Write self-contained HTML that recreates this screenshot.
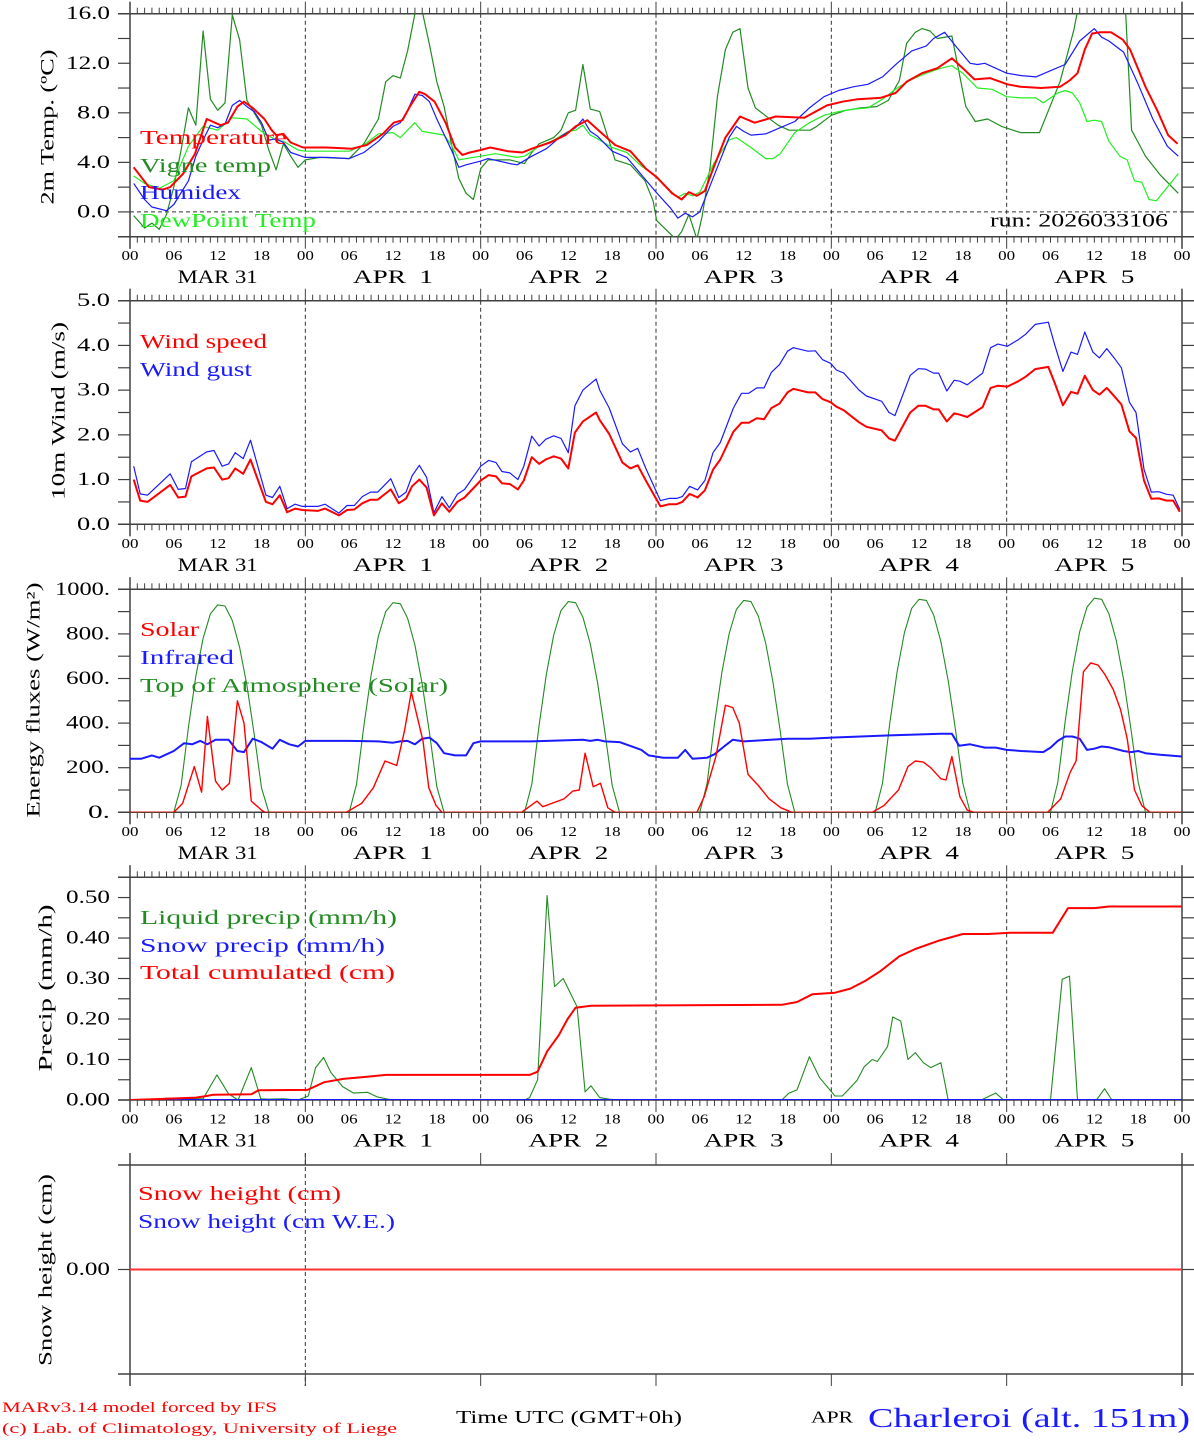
<!DOCTYPE html>
<html><head><meta charset="utf-8">
<style>
html,body{margin:0;padding:0;background:#fff;}
svg{display:block;font-family:"Liberation Serif",serif;}
svg text{white-space:pre;}
</style></head>
<body>
<svg id="chart" width="1194" height="1440" viewBox="0 0 1194 1440" xmlns="http://www.w3.org/2000/svg">
<defs>
<clipPath id="clip0"><rect x="130" y="13.7" width="1052" height="223"/></clipPath>
<clipPath id="clip1"><rect x="130" y="300.7" width="1052" height="223.6"/></clipPath>
<clipPath id="clip2"><rect x="130" y="589.3" width="1052" height="223"/></clipPath>
<clipPath id="clip3"><rect x="130" y="877.3" width="1052" height="222.7"/></clipPath>
</defs>
<g id="axes"></g>
<g id="marks"></g>
<g id="texts">
<text x="140" y="138" fill="#ff0000" font-size="20" dominant-baseline="central" textLength="147">Temperature</text>
<text x="140" y="166" fill="#228b22" font-size="20" dominant-baseline="central" textLength="131">Vigne temp</text>
<text x="140" y="193" fill="#1a1aff" font-size="20" dominant-baseline="central" textLength="101">Humidex</text>
<text x="140" y="221" fill="#22ee22" font-size="20" dominant-baseline="central" textLength="176">DewPoint Temp</text>
<text x="990" y="221" fill="#000" font-size="19" dominant-baseline="central" textLength="178">run: 2026033106</text>
<text x="140" y="342" fill="#ff0000" font-size="20" dominant-baseline="central" textLength="127">Wind speed</text>
<text x="140" y="370" fill="#1a1aff" font-size="20" dominant-baseline="central" textLength="112">Wind gust</text>
<text x="140" y="630" fill="#ff0000" font-size="20" dominant-baseline="central" textLength="59">Solar</text>
<text x="140" y="658" fill="#1a1aff" font-size="20" dominant-baseline="central" textLength="94">Infrared</text>
<text x="140" y="686" fill="#228b22" font-size="20" dominant-baseline="central" textLength="308">Top of Atmosphere (Solar)</text>
<text x="140" y="918" fill="#228b22" font-size="20" dominant-baseline="central" textLength="257">Liquid precip (mm/h)</text>
<text x="140" y="946" fill="#1a1aff" font-size="20" dominant-baseline="central" textLength="245">Snow precip (mm/h)</text>
<text x="140" y="973" fill="#ff0000" font-size="20" dominant-baseline="central" textLength="255">Total cumulated (cm)</text>
<text x="138" y="1194" fill="#ff0000" font-size="20" dominant-baseline="central" textLength="203">Snow height (cm)</text>
<text x="138" y="1222" fill="#1a1aff" font-size="20" dominant-baseline="central" textLength="257">Snow height (cm W.E.)</text>
<text transform="translate(48,127) rotate(-90)" text-anchor="middle" dominant-baseline="central" font-size="19" textLength="155">2m Temp. (ºC)</text>
<text transform="translate(59,411) rotate(-90)" text-anchor="middle" dominant-baseline="central" font-size="19" textLength="178">10m Wind (m/s)</text>
<text transform="translate(34,700) rotate(-90)" text-anchor="middle" dominant-baseline="central" font-size="19" textLength="235">Energy fluxes (W/m²)</text>
<text transform="translate(46,988) rotate(-90)" text-anchor="middle" dominant-baseline="central" font-size="19" textLength="167">Precip (mm/h)</text>
<text transform="translate(46,1270) rotate(-90)" text-anchor="middle" dominant-baseline="central" font-size="19" textLength="192">Snow height (cm)</text>
<text x="2" y="1408" fill="#ff0000" font-size="15" dominant-baseline="central" textLength="275">MARv3.14 model forced by IFS</text>
<text x="2" y="1429" fill="#ff0000" font-size="15" dominant-baseline="central" textLength="395">(c) Lab. of Climatology, University of Liege</text>
<text x="456" y="1417" fill="#000" font-size="18" dominant-baseline="central" textLength="226">Time UTC (GMT+0h)</text>
<text x="811" y="1417" fill="#000" font-size="17" dominant-baseline="central" textLength="42">APR</text>
<text x="868" y="1418" fill="#1a1aff" font-size="27" dominant-baseline="central" textLength="322">Charleroi (alt. 151m)</text>
</g>
</svg>
<script>
// ---------- DATA ----------
const dayLabels = ["MAR 31","APR  1","APR  2","APR  3","APR  4","APR  5"];
const hourLabels = ["00","06","12","18"];
const tempTicks = [0,4,8,12,16];
const windTicks = [0,1,2,3,4,5];
const energyTicks = [0,200,400,600,800,1000];
const precipTicks = [0,0.1,0.2,0.3,0.4,0.5];

const tempHours = [0.5,2.6,4.5,5.5,7.3,8.9,10.5,12.4,13.4,14.7,15.6,16.8,18.4,19.4,20,21,22,23.7,27,30.4,32.4,34.6,36.1,37.3,38.3,39.6,40.4,41.7,43.2,44.5,45.5,46.5,48,49.3,51.7,53.7,55,57.5,59.6,61,62.6,64.3,66.4,68.5,70.6,72.1,74.2,75.5,76.5,77.6,78.7,79.9,81.5,83.5,85.5,88.4,92.3,95.4,97.5,99.6,102.7,104.8,106.3,108.4,110.5,112.5,114,115.6,117.7,120.1,121.9,124.7,127.3,128.6,129.7,130.7,131.7,132.8,134.3,135.9,136.9,139,140.6,142.1,143.4];
const tempValues = [3.6,2.0,1.8,2.0,3.1,4.7,7.5,7.0,7.2,8.5,8.9,8.4,7.5,6.6,6.2,6.3,5.6,5.2,5.2,5.1,5.4,6.3,7.2,7.4,8.5,9.7,9.5,8.9,7.2,5.2,4.6,4.8,5.0,5.2,4.9,4.8,5.1,5.6,6.2,6.9,7.4,6.5,5.4,4.9,3.5,2.8,1.5,1.0,1.6,1.3,1.7,3.6,6.0,7.7,7.2,7.7,7.6,8.6,8.9,9.1,9.2,9.6,10.5,11.2,11.6,12.4,11.6,10.7,10.8,10.3,10.1,10.0,10.1,10.6,11.2,13.1,14.4,14.5,14.5,13.9,13.1,10.1,8.2,6.2,5.5];

const humidexHours = [0.5,2,3,5,6,8,9,10,11,12,13,14,15,16,17,18,19,20,21,22,24,27,30,32,34,36,37,38,39,40,41,42,44,45,46,48,49,52,53,55,57,59,61,62,63,64,66,68,70,72,74,75,76,77,78,80,82,83,84,85,87,89,91,93,95,97,99,101,103,105,107,109,110,111.5,113,115,116,117,120,122,124,126,128,130,132,133,134,136,138,140,142,143.5];
const humidexValues = [2.3,1.0,0.4,0.1,0.6,2.5,4.5,5.8,7.0,6.8,7.1,8.6,9.0,8.5,8.1,7.2,5.8,5.9,5.6,4.8,4.4,4.4,4.3,4.8,5.7,6.9,7.2,8.2,9.5,9.4,8.9,7.5,5.0,3.6,3.8,4.1,4.3,3.9,3.8,4.5,5.1,6.1,6.8,7.5,6.5,6.1,4.9,4.4,3.0,1.6,0.3,-0.5,-0.1,-0.4,0.0,3.0,6.0,6.9,6.5,6.2,6.3,6.8,7.3,8.4,9.3,9.8,10.1,10.3,10.9,12.0,13.0,13.4,14.0,14.5,13.4,12.0,11.9,12.0,11.2,11.0,10.9,11.4,11.9,13.8,14.8,14.1,13.8,12.9,10.3,7.5,5.3,4.5];

const dewHours = [0.5,2,4,6,8,10,12,14,16,18,20,21,23,24,30,32,34,36,37,39,40,42,43,44,45,47,48,50,53,54,56,58,60,61,62,63,64,66,68,70,72,74,75,76,77,78,80,82,83,85,87,88,89,91,93,95,97,99,101,103,105,107,109,111,112.5,114,116,118,120,122,124,125,127,128,129,130,131,132,133,134,135.5,136.5,137.5,138.5,139.5,140.5,142,143.5];
const dewValues = [2.9,2.3,1.9,2.5,5.3,6.9,6.6,7.6,7.5,6.5,5.8,5.7,5.0,4.9,4.9,5.4,6.3,6.4,6.0,7.2,6.5,6.3,6.2,5.4,4.2,4.4,4.5,4.7,4.4,4.5,5.3,5.8,6.5,6.6,7.0,6.2,5.9,5.2,4.8,3.7,2.9,1.7,1.2,1.5,1.3,1.6,4.0,5.8,6.0,5.2,4.3,4.3,4.7,6.4,7.2,7.8,8.1,8.3,8.4,9.1,10.0,10.7,11.2,11.6,11.8,11.2,10.0,9.9,9.3,9.2,9.2,8.8,9.6,9.8,9.6,8.8,7.3,7.4,7.3,5.7,4.5,4.2,2.5,2.4,1.0,0.9,2.0,3.1];

const vigneHours = [0.5,2,3,4,5,6,7,8,9,10,11,12,13,14,15,16,17,18,19,20,21,22,23,24,26,30,32,34,35,36,37,38,39,40,41,42,43,44,45,46,47,48,49,52,54,55,56,58,59,60,61,62,63,64.3,66.4,68.5,70.5,71.6,72.1,74,74.7,75.5,76.5,77.6,78.3,79.4,80.4,81.5,82.5,83.5,84.6,85.6,88.7,90.2,93.1,94,96,98,100,102.2,103.8,105.3,106.3,107.5,108.4,109.5,110.5,112.5,114.4,115.7,117.4,119.3,121.9,124.5,127.3,129.2,129.7,131,135,136.3,137.1,139,141,143.5];
const vigneValues = [-0.3,-1.3,-0.9,-1.4,-0.2,2.0,5.0,8.4,7.0,14.6,9.1,8.2,8.8,15.9,13.9,9.0,8.0,7.0,5.0,3.4,5.5,4.5,3.6,4.2,4.4,4.3,5.5,7.5,10.5,11.0,10.8,13.0,16.0,16.2,13.5,10.5,8.5,5.5,2.7,1.5,1.0,3.5,4.2,4.2,3.9,4.8,5.5,6.0,6.6,8.0,8.2,11.9,8.3,8.1,4.2,3.8,2.5,0.9,-0.7,-1.8,-2.2,-1.6,-0.2,-2.2,-0.4,3.6,9.3,13.1,14.5,14.8,10.0,8.4,7.0,6.6,6.6,6.9,7.8,8.2,8.4,8.5,9.0,10.6,13.6,14.5,14.8,14.6,14.0,14.2,8.5,7.3,7.5,6.9,6.4,6.4,10.5,14.7,16.2,18,18,16,6.6,4.5,3.0,1.5];

const windHours = [0.5,1.4,2.4,5.5,6.6,7.6,8.4,10.5,11.5,12.6,13.5,14.4,15.5,16.5,18.6,19.5,20.5,21.5,22.6,23.6,25.7,26.7,28.6,29.7,30.7,31.8,32.9,33.9,35.7,36.8,37.8,38.6,39.6,40.6,41.6,42.7,43.7,44.8,45.8,48,49.1,50.1,50.9,52,53.1,53.9,55,56,56.9,58,59,60,60.9,62,63.8,64.3,65.6,67.4,68.5,69.5,70.6,72.6,73.8,74.8,75.6,76.6,77.7,78.7,79.8,80.8,82.6,83.7,84.7,85.8,86.8,87.8,88.9,90,90.8,92.8,93.8,94.8,95.9,96.7,97.7,99.8,100.8,102.9,103.9,104.7,105.8,106.8,107.9,108.9,110,110.7,111.8,112.8,113.6,114.6,116.7,117.8,118.8,120.1,121.6,122.6,123.9,125.7,126.6,127.7,128.8,129.7,130.7,131.8,132.7,133.7,134.8,135.7,136.8,137.7,138.8,139.8,140.8,141.9,142.8,143.7];
const windSpeed = [1.0,0.53,0.5,0.88,0.6,0.62,1.07,1.25,1.27,1.0,1.03,1.25,1.13,1.45,0.5,0.45,0.65,0.27,0.35,0.32,0.3,0.35,0.2,0.32,0.33,0.47,0.55,0.55,0.78,0.47,0.58,0.85,1.0,0.82,0.2,0.47,0.28,0.5,0.6,0.98,1.1,1.07,0.92,0.9,0.78,0.98,1.5,1.35,1.45,1.52,1.47,1.25,2.05,2.3,2.5,2.33,2.02,1.38,1.25,1.32,0.98,0.4,0.45,0.45,0.5,0.68,0.6,0.76,1.22,1.45,2.07,2.27,2.27,2.37,2.35,2.6,2.7,2.95,3.03,2.95,2.95,2.8,2.73,2.63,2.55,2.28,2.18,2.1,1.92,1.87,2.2,2.5,2.65,2.65,2.57,2.57,2.3,2.48,2.45,2.4,2.62,3.05,3.1,3.08,3.2,3.3,3.47,3.52,3.15,2.66,2.96,2.92,3.32,3.0,2.9,3.05,2.85,2.68,2.08,1.93,0.98,0.57,0.58,0.53,0.53,0.28];
const windGust = [1.3,0.68,0.65,1.13,0.78,0.8,1.4,1.62,1.65,1.3,1.35,1.6,1.47,1.88,0.65,0.6,0.85,0.35,0.45,0.4,0.4,0.45,0.25,0.42,0.42,0.62,0.72,0.72,1.02,0.6,0.72,1.08,1.32,1.05,0.26,0.62,0.37,0.67,0.78,1.3,1.43,1.38,1.18,1.15,1.0,1.3,1.97,1.75,1.9,1.98,1.92,1.6,2.65,3.0,3.25,3.0,2.6,1.8,1.62,1.7,1.25,0.53,0.58,0.58,0.62,0.85,0.77,0.98,1.6,1.83,2.6,2.93,2.93,3.05,3.05,3.4,3.57,3.87,3.95,3.87,3.88,3.68,3.6,3.45,3.38,3.0,2.87,2.75,2.5,2.43,2.9,3.33,3.48,3.47,3.38,3.38,2.98,3.22,3.2,3.12,3.38,3.95,4.03,3.98,4.13,4.25,4.47,4.52,4.0,3.42,3.85,3.8,4.3,3.85,3.72,3.93,3.7,3.5,2.73,2.5,1.23,0.72,0.73,0.67,0.65,0.33];

const solarHours = [0,6,7.2,8.8,9.8,10.6,11.7,12.6,13.6,14.7,15.6,16.6,18,18.5,29.6,31.7,33.3,34.9,36.5,37.6,38.5,40.1,40.9,41.9,42.7,53.6,55.7,56.5,59.4,60.6,61.5,62.3,63.4,64.4,65.4,66.4,77.6,78.6,80.2,81.5,82.5,83.4,84.6,86,87.5,89.1,90.6,101.6,103.2,105.2,106.5,107.5,108.6,109.6,111,111.7,112.5,113.6,114.6,115.5,125.6,127.4,128.7,129.5,130.5,131.5,132.5,133.4,134.6,135.6,136.5,137.5,138.5,139.6,144];
const solarValues = [0,0,40,205,90,430,140,100,130,500,400,50,10,0,0,40,110,230,210,370,540,320,110,30,0,0,50,25,60,95,100,265,115,130,20,0,0,70,250,480,470,400,170,120,60,20,0,0,30,100,205,230,225,200,150,145,250,70,10,0,0,60,180,230,630,670,660,620,550,460,330,100,30,0,0];

const irHours = [0,1.5,3,4,6,7.4,8.5,9.6,10.6,11.7,13.5,14.7,15.6,16.8,18,19.5,20.5,21.8,23,24,30,34,36,37,38,39,40,41,42,43,44.5,46,47,48,55,62,63,64,65,67,70,71,73,75,76,77,79,80,81.5,82.5,84,86,90,93,96,100,104,111,112.5,113.5,115,117,118.5,120,122,125,126,127,128,129,130,131,132,133,134,136,137,138,139,141,144];
const irValues = [240,240,255,245,275,310,305,320,305,325,325,275,270,330,315,285,325,305,295,320,320,318,312,318,320,305,330,335,310,265,255,255,310,318,318,325,320,325,318,315,280,255,245,245,280,240,245,260,300,325,318,322,330,330,335,340,345,352,352,298,305,290,290,280,275,270,290,320,340,340,330,280,285,295,292,275,270,275,265,258,250];

const toaValues = [
0,0,0,0,0,0,0,120,380,610,780,890,930,925,860,740,570,350,110,0,0,0,0,0,
0,0,0,0,0,0,0,125,385,615,790,900,940,935,870,750,575,355,115,0,0,0,0,0,
0,0,0,0,0,0,0,125,390,620,795,905,945,940,875,755,580,360,120,0,0,0,0,0,
0,0,0,0,0,0,0,130,395,625,800,910,950,945,880,760,585,365,125,0,0,0,0,0,
0,0,0,0,0,0,0,130,400,630,805,915,955,950,885,765,590,370,130,0,0,0,0,0,
0,0,0,0,0,0,0,135,405,635,810,920,960,955,890,770,595,375,135,0,0,0,0,0,
0];

const cumHours = [0,5,9,10.5,11.4,16.6,17.6,24.3,26.6,29.2,32.8,35,54.7,55.8,57.1,58.7,59.9,61,63.1,89.2,91.3,93.4,96.5,98.6,100.7,102.7,105.3,107.5,110.6,114,117.4,120.5,126.3,128.4,132,134,144];
const cumValues = [0,0.003,0.006,0.01,0.013,0.014,0.024,0.025,0.044,0.052,0.058,0.062,0.062,0.07,0.12,0.16,0.2,0.228,0.233,0.235,0.242,0.261,0.265,0.275,0.295,0.318,0.355,0.373,0.393,0.41,0.41,0.413,0.413,0.474,0.474,0.478,0.478];

const liqHours = [0,4,5,7,10,11.9,13.5,14.8,16.6,17.9,19,21,23,24.4,25.4,26.5,27.5,29.1,30.6,32.5,33.8,35.3,36,54,54.7,55.8,57.1,58.1,59.3,61.2,62.3,63.1,64.3,65.6,67,88,89.2,90.2,91.3,93,94.4,96.5,97.5,99.5,100.5,101.6,102.3,103.7,104.4,105.5,106.5,107.5,108.6,109.6,111,112,116.5,117.2,118.5,119.6,126,127.6,128.6,129.7,132.3,133.4,134.4,144];
const liqValues = [0,0,0.005,0.003,0.003,0.062,0.015,0,0.08,0.003,0.002,0.003,0,0.01,0.08,0.105,0.068,0.033,0.017,0.019,0.008,0.002,0,0,0.006,0.05,0.505,0.28,0.3,0.23,0.02,0.035,0.006,0.002,0,0,0,0.017,0.025,0.107,0.055,0.01,0.01,0.048,0.082,0.1,0.095,0.132,0.205,0.195,0.1,0.117,0.092,0.08,0.092,0,0,0.006,0.017,0,0,0.298,0.306,0,0,0.028,0,0];

const snowPrecipHours = [0,144];
const snowPrecipValues = [0,0];
const snowHeightHours = [0,144];
const snowHeightValues = [0,0];

// ---------- LAYOUT ----------
const NS = "http://www.w3.org/2000/svg";
const X0 = 130, X1 = 1182;
const panels = [
  {top:13.7, bot:236.7, min:-2, max:16},
  {top:300.7, bot:524.3, min:0, max:5},
  {top:589.3, bot:812.3, min:0, max:1000},
  {top:877.3, bot:1100, min:0, max:0.55},
  {top:1165, bot:1374, min:-1, max:1}
];
function xs(h){ return X0 + h*(X1-X0)/144; }
function ys(p, v){ const P = panels[p]; return P.bot - (v-P.min)*(P.bot-P.top)/(P.max-P.min); }
const axesG = document.getElementById('axes');
const marksG = document.getElementById('marks');
function mk(tag, attrs, parent){
  const e = document.createElementNS(NS, tag);
  for (const k in attrs) e.setAttribute(k, attrs[k]);
  parent.appendChild(e);
  return e;
}
function line(x1,y1,x2,y2,stroke,w,dash,parent,name){
  const e = mk('line',{x1:x1,y1:y1,x2:x2,y2:y2,stroke:stroke,'stroke-width':w},parent);
  if (dash) e.setAttribute('stroke-dasharray', dash);
  
  
  return e;
}
function txt(x,y,s,size,anchor,parent,name,len){
  const e = mk('text',{x:x,y:y,'font-size':size,'text-anchor':anchor,'dominant-baseline':'central',fill:'#000'},parent);
  if (len) e.setAttribute('textLength', len);
  e.textContent = s;
  
  
  return e;
}
const AX = '#404040';

for (let p=0; p<5; p++){
  const P = panels[p];
  line(118,P.top,1194,P.top,AX,1.5,null,axesG,'frame-top');
  line(118,P.bot,1194,P.bot,AX,1.5,null,axesG,'frame-bottom');
  line(X0,P.top-12,X0,P.bot+12,AX,1.5,null,axesG,'y-axis-left');
  line(X1,P.top-12,X1,P.bot+12,AX,1.5,null,axesG,'y-axis-right');
  for (let h=0; h<=144; h++){
    const x = xs(h);
    const isDay = h%24===0;
    if (p===4 && !isDay) continue;
    const L = isDay ? 12 : 6;
    line(x,P.top-L,x,P.top,AX,1,null,axesG,'x-tick-top');
    line(x,P.bot,x,P.bot+L,AX,1,null,axesG,'x-tick-bottom');
  }
  for (let d=1; d<6; d++){
    if (p===4 && d>1) continue;
    const y1 = p===4 ? P.top-12 : P.top, y2 = p===4 ? P.bot+12 : P.bot;
    line(xs(d*24),y1,xs(d*24),y2,'#333',1,'4,3',axesG,'day-separator');
  }
  if (p<4){
    for (let d=0; d<6; d++){
      for (let k=0; k<4; k++) txt(xs(d*24+k*6), P.bot+20, hourLabels[k], 14, 'middle', axesG, 'x-hour-label', 17);
      txt(xs(d*24+12), P.bot+41, dayLabels[d], 19, 'middle', axesG, 'x-date-label', 80);
    }
    txt(xs(144), P.bot+20, hourLabels[0], 14, 'middle', axesG, 'x-hour-label', 17);
  }
}
function yTicks(p, step, labels, fmt, name){
  const P = panels[p];
  const n = Math.round((P.max-P.min)/step);
  for (let i=0; i<=n; i++){
    const v = P.min + i*step;
    const y = ys(p, v);
    line(118,y,X0,y,AX,1.2,null,axesG,'y-tick-left');
    line(X1,y,1194,y,AX,1.2,null,axesG,'y-tick-right');
  }
  labels.forEach(v => { const s = fmt(v); txt(110, ys(p,v), s, 19, 'end', axesG, name, s.length*11); });
}
yTicks(0, 2, tempTicks, v=>v.toFixed(1), 'y-tick-label-temp');
yTicks(1, 0.5, windTicks, v=>v.toFixed(1), 'y-tick-label-wind');
yTicks(2, 100, energyTicks, v=>v.toFixed(0)+'.', 'y-tick-label-energy');
yTicks(3, 0.05, precipTicks, v=>v.toFixed(2), 'y-tick-label-precip');
line(118,ys(4,0),X0,ys(4,0),AX,1.2,null,axesG,'y-tick-left');
line(X1,ys(4,0),1194,ys(4,0),AX,1.2,null,axesG,'y-tick-right');
txt(110, ys(4,0), '0.00', 19, 'end', axesG, 'y-tick-label-snow', 44);
line(X0,ys(0,0),X1,ys(0,0),'#333',1,'4,3',axesG,'zero-line');

document.querySelectorAll('text[textLength]').forEach(t => t.setAttribute('lengthAdjust','spacingAndGlyphs'));

// ---------- SERIES ----------
function series(p, hours, vals, color, w, name){
  const pts = hours.map((h,i)=> xs(h).toFixed(1)+','+ys(p,vals[i]).toFixed(1)).join(' ');
  const e = mk('polyline',{points:pts,fill:'none',stroke:color,'stroke-width':w,'stroke-linejoin':'round'},marksG);
  if (p<4) e.setAttribute('clip-path','url(#clip'+p+')');
  
  
  return e;
}
const toaHours = toaValues.map((v,i)=>i);
series(0, vigneHours, vigneValues, '#228b22', 1.2, 'vigne-temp-line');
series(0, dewHours, dewValues, '#22ee22', 1.2, 'dewpoint-line');
series(0, humidexHours, humidexValues, '#1a1aff', 1.2, 'humidex-line');
series(0, tempHours, tempValues, '#ff0000', 2, 'temperature-line');
series(1, windHours, windGust, '#1a1aff', 1.2, 'wind-gust-line');
series(1, windHours, windSpeed, '#ff0000', 2, 'wind-speed-line');
series(2, toaHours, toaValues, '#228b22', 1.1, 'toa-solar-line');
series(2, irHours, irValues, '#1a1aff', 2, 'infrared-line');
series(2, solarHours, solarValues, '#ff0000', 1.4, 'solar-line');
series(3, liqHours, liqValues, '#228b22', 1.1, 'liquid-precip-line');
series(3, snowPrecipHours, snowPrecipValues, '#1a1aff', 2, 'snow-precip-line');
series(3, cumHours, cumValues, '#ff0000', 2, 'total-cumulated-line');
series(4, snowHeightHours, snowHeightValues, '#ff3030', 2, 'snow-height-line');
</script>
</body></html>
